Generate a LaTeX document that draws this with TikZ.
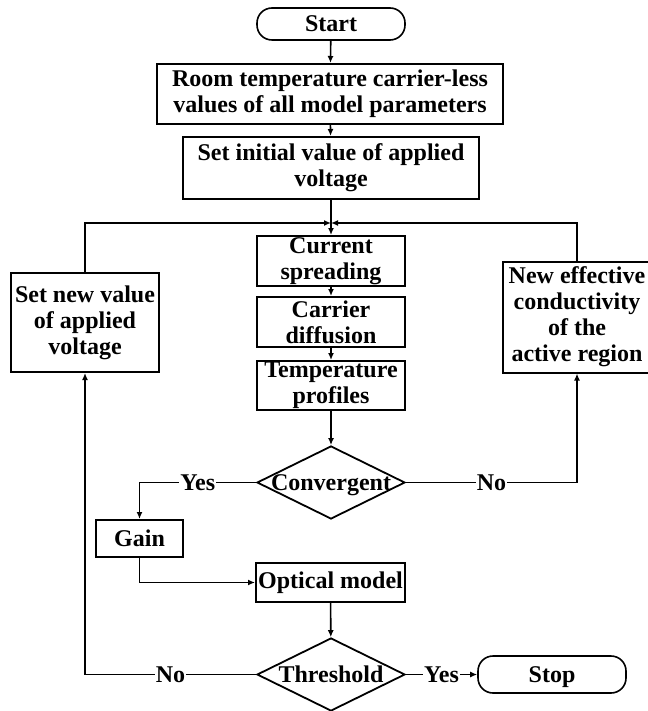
\documentclass[tikz,border=0pt]{standalone}
\usepackage{fontspec}
\setmainfont{Liberation Serif}
\usetikzlibrary{shapes.geometric,arrows.meta}

\begin{document}
\begin{tikzpicture}[x=1pt,y=-1pt,
    font=\fontsize{24}{26}\selectfont\bfseries,
    box/.style={draw,line width=2pt,inner sep=0pt,align=center},
    term/.style={box,line width=1.6pt,rounded corners=15pt,minimum width=148pt,minimum height=32pt,text height=16pt,text depth=0pt},
    decision/.style={draw,diamond,line width=1.8pt,inner sep=0pt,minimum width=148pt,minimum height=73pt,text height=16pt,text depth=0pt},
    conn/.style={line width=1.6pt},
    arrow/.style={conn,-{Latex[length=7pt,width=6pt]}},
    answer/.style={fill=white,inner sep=1pt,text height=16pt,text depth=0pt}]
            \useasboundingbox (0,0) rectangle (647,711);

            \node[term] (start) at (331,24) {Start};
            \node[box,minimum width=346pt,minimum height=60pt] (params) at (330,94) {Room temperature carrier-less\\values of all model parameters};
            \node[box,minimum width=296pt,minimum height=62pt] (init) at (331,168) {Set initial value of applied\\voltage};
            \node[box,minimum width=148pt,minimum height=50pt] (spread) at (331,261) {Current\\spreading};
            \node[box,minimum width=148pt,minimum height=50pt] (diffus) at (331,322) {Carrier\\diffusion};
            \node[box,minimum width=148pt,minimum height=49pt] (temp) at (331,385.5) {Temperature\\profiles};
            \node[decision] (conv) at (331,482.5) {\makebox[0pt]{Convergent}};
            \node[box,minimum width=87pt,minimum height=37pt] (gain) at (139.5,538.5) {Gain};
            \node[box,minimum width=149pt,minimum height=39pt] (optic) at (330.5,582.5) {Optical model};
            \node[decision] (thresh) at (331,674.5) {\makebox[0pt]{Threshold}};
            \node[term,minimum height=37pt] (stop) at (552,674.5) {Stop};
            \node[box,minimum width=148pt,minimum height=99pt] (setnew) at (85,322.5) {Set new value\\of applied\\voltage};
            \node[box,minimum width=148pt,minimum height=111pt] (neweff) at (577,317) {New effective\\conductivity\\of the\\active region};
            \coordinate (join) at (331,223);

            \draw[arrow] (start) -- (params);
            \draw[arrow] (params) -- (init);
            \draw[arrow] (init) -- (spread);
            \draw[arrow] (spread) -- (diffus);
            \draw[arrow] (diffus) -- (temp);
            \draw[arrow] (temp) -- (conv);
            \draw[arrow] (setnew.north) |- (join);
            \draw[arrow] (neweff.north) |- (join);

            \draw[arrow] (conv.west) -| node[answer,pos=0.25] {Yes} (gain.north);
            \draw[arrow] (conv.east) -| node[answer,pos=0.25] {No} (neweff.south);
            \draw[arrow] (gain.south) |- (optic.west);
            \draw[arrow] (optic) -- (thresh);
            \draw[arrow] (thresh.west) -| node[answer,pos=0.25] {No} (setnew.south);
            \draw[arrow] (thresh) -- node[answer] {Yes} (stop);
        \end{tikzpicture}
\end{document}
